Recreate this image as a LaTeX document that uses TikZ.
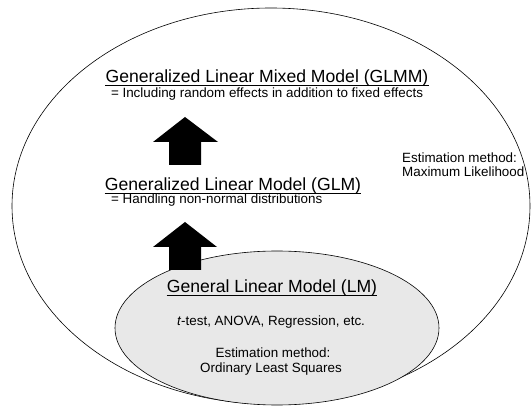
\documentclass[tikz,border=0pt]{standalone}
\usepackage{fontspec}
\setmainfont{Liberation Sans}

\begin{document}
\begin{tikzpicture}[x=1pt, y=-1pt,
  title/.style={font=\fontsize{17.6}{20}\selectfont, inner sep=0pt, anchor=base},
  note/.style={font=\fontsize{13.4}{16}\selectfont, inner sep=0pt, anchor=base},
  rule/.style={line width=0.9pt},
  uparrow/.style={fill=black}]
\useasboundingbox (0,0) rectangle (531,406);
% Outer ellipse (GLMM) and inner shaded ellipse (LM)
\draw[line width=0.6pt] (271,206) ellipse [x radius=259, y radius=198];
\draw[fill=black!9, semithick] (277,328) ellipse [x radius=162, y radius=77];

% Level 3 (top): GLMM
\node[title] (glmm) at (267,83) {Generalized Linear Mixed Model (GLMM)};
\node[note] (glmmsub) at (267,98) {= Including random effects in addition to fixed effects};
% Level 2: GLM
\node[title] (glm) at (233,191) {Generalized Linear Model (GLM)};
\node[note, anchor=base west] (glmsub) at (111,204) {= Handling non-normal distributions};
% Level 1 (inside): LM
\node[title] (lm) at (272,293) {General Linear Model (LM)};
\node[note] (tests) at (271,326) {\textit{t}-test, ANOVA, Regression, etc.};
\node[note] (olsa) at (273,358) {Estimation method:};
\node[note] (olsb) at (271,373) {Ordinary Least Squares};
% Estimation for the outer models
\node[note, anchor=base west] (mla) at (402,163) {Estimation method:};
\node[note, anchor=base west] (mlb) at (402,177) {Maximum Likelihood};

% Underlines of the model names
\draw[rule] ([yshift=-2.6pt]glmm.base west) -- ([yshift=-2.6pt]glmm.base east);
\draw[rule] ([yshift=-2.6pt]glm.base west) -- ([yshift=-2.6pt]glm.base east);
\draw[rule] ([yshift=-2.6pt]lm.base west) -- ([yshift=-2.6pt]lm.base east);

% Block arrows between levels
\fill[uparrow] (169,165) -- (201,165) -- (201,142) -- (218,142) -- (185,117)
  -- (153,142) -- (169,142) -- cycle;
\fill[uparrow] (169,270) -- (201,270) -- (201,247) -- (217,247) -- (185,222)
  -- (153,247) -- (169,247) -- cycle;
\end{tikzpicture}
\end{document}
